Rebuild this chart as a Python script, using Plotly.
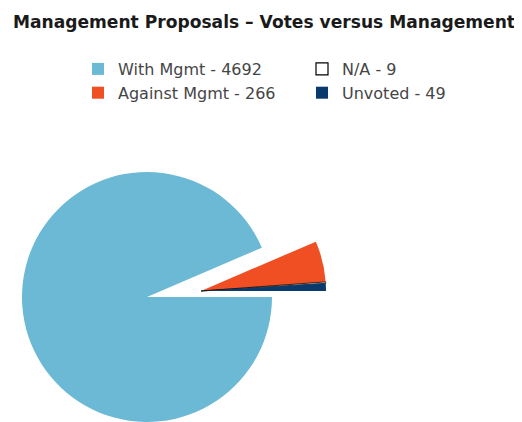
import plotly.graph_objects as go

# ---- data ----
categories = ["With Mgmt", "Against Mgmt", "N/A", "Unvoted"]
votes = [4692, 266, 9, 49]
colors = ["#6cb9d5", "#f04e23", "#ffffff", "#0a3a6b"]
title_text = "Management Proposals \u2013 Votes versus Management"

labels = [f"{c} - {v}" for c, v in zip(categories, votes)]

# the page body has an 8px default margin: figure px = screen px - 8
OFF = 8
W, H = 522 - OFF, 422 - OFF
R = 125                          # pie radius (px)
CX, CY = 147 - OFF, 297 - OFF    # centre of main pie (figure px)
DX, DY = 54, -6                  # offset of the exploded group (px)


def dom(cx, cy, r):
    return dict(x=[max(0, (cx - r) / W), min(1, (cx + r) / W)],
                y=[max(0, 1 - (cy + r) / H), min(1, 1 - (cy - r) / H)])


transparent = "rgba(0,0,0,0)"

colA = [colors[0]] + [transparent] * 3          # main slice only
colB = [transparent] + colors[1:]               # exploded group only
lineB = [transparent, colors[1], "#000000", colors[3]]
lwB = [0, 0, 0.8, 0]

common = dict(labels=labels, values=votes, sort=False, direction="clockwise",
              rotation=90, textinfo="none", hoverinfo="label+value+percent",
              showlegend=False)

fig = go.Figure()

# legend-only trace (order chosen so that a 2-column horizontal legend matches)
order = [0, 2, 1, 3]
fig.add_trace(go.Pie(
    labels=[labels[i] for i in order], values=[votes[i] for i in order],
    sort=False, textinfo="none", hoverinfo="skip", showlegend=True,
    marker=dict(colors=[colors[i] for i in order],
                line=dict(color=["#000000" if i == 2 else colors[i] for i in order],
                          width=[1.2 if i == 2 else 0 for i in order])),
    domain=dict(x=[0.25, 0.2502], y=[0.25, 0.2502]),
))

fig.add_trace(go.Pie(**common, marker=dict(colors=colA, line=dict(width=0)),
                     domain=dom(CX, CY, R)))
fig.add_trace(go.Pie(**common, marker=dict(colors=colB, line=dict(color=lineB, width=lwB)),
                     domain=dom(CX + DX, CY + DY, R)))

fig.update_layout(
    width=W, height=H,
    margin=dict(l=0, r=0, t=0, b=0, autoexpand=False),
    paper_bgcolor="white", plot_bgcolor="white",
    title=dict(text=title_text, x=(264 - OFF) / W, xanchor="center",
               y=1 - (22 - OFF) / H, yanchor="middle", yref="container",
               font=dict(family="DejaVu Sans", size=17.1, color="#1a1a1a", weight="bold")),
    legend=dict(orientation="h", x=70 / W, xanchor="left", y=1 - 44 / H, yanchor="top",
                entrywidth=179, entrywidthmode="pixels",
                font=dict(family="DejaVu Sans", size=16, color="#454545"),
                bgcolor="rgba(0,0,0,0)", traceorder="normal"),
)

fig.write_html("out.html")
